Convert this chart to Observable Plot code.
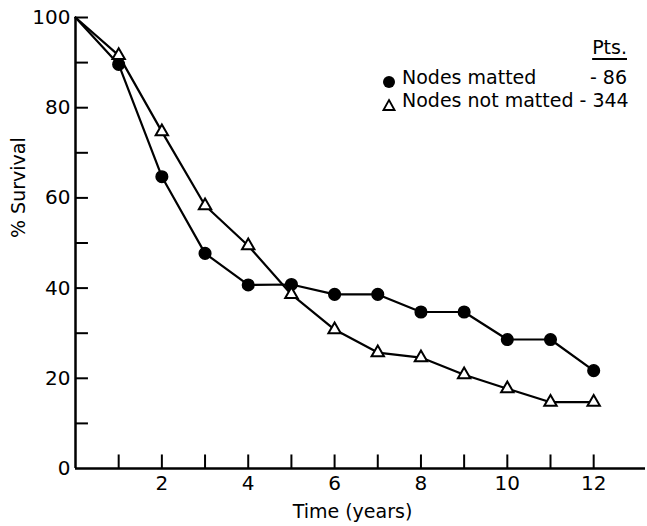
<!DOCTYPE html>
<html><head><meta charset="utf-8">
<script src="https://cdn.jsdelivr.net/npm/d3@7"></script>
<script src="https://cdn.jsdelivr.net/npm/@observablehq/plot@0.6"></script>
<style>
body{margin:0;background:#fff;}
#wrap{position:relative;width:647px;height:526px;font-family:"DejaVu Sans",sans-serif;color:#000}
.leg{position:absolute;font-size:19px;white-space:nowrap;line-height:22px}
</style></head><body><div id="wrap"></div>
<script>
const years = [0,1,2,3,4,5,6,7,8,9,10,11,12];
const matted = [100,89.6,64.7,47.7,40.7,40.8,38.6,38.6,34.7,34.7,28.6,28.6,21.7];
const notMatted = [100,91.6,74.7,58.3,49.4,38.6,30.8,25.7,24.6,20.8,17.7,14.7,14.7];
const seriesNames = ["Nodes matted", "Nodes not matted"];
const seriesPts = [86, 344];
const xTicks = [1,2,3,4,5,6,7,8,9,10,11,12];
const xLabels = [2,4,6,8,10,12];
const yTicks = [10,20,30,40,50,60,70,80,90,100];
const yLabels = [0,20,40,60,80,100];
const xTitle = "Time (years)";
const yTitle = "% Survival";

const rows = [];
years.forEach((t,i)=>{
  rows.push({t, v: matted[i], s: seriesNames[0]});
  rows.push({t, v: notMatted[i], s: seriesNames[1]});
});
const markRows = rows.filter(d => d.t > 0);

const chart = Plot.plot({
  width: 647, height: 526,
  marginLeft: 75, marginTop: 17, marginBottom: 58, marginRight: 2,
  style: {fontFamily: "DejaVu Sans", fontSize: "20px", color: "#000", background: "#fff", overflow: "visible"},
  x: {domain: [0, 13.2]},
  y: {domain: [0, 100]},
  marks: [
    Plot.axisX(xLabels, {tickSize: 0, tickPadding: 7, label: null, tickFormat: d => String(d)}),
    Plot.axisY(yLabels, {tickSize: 0, tickPadding: 5, label: null, tickFormat: d => String(d)}),
    Plot.ruleX(xTicks, {y1: 0, y2: 3, stroke: "#000", strokeWidth: 2}),
    Plot.ruleY(yTicks, {x1: 0, x2: 0.3, stroke: "#000", strokeWidth: 2}),
    Plot.ruleY([0], {stroke: "#000", strokeWidth: 2.5}),
    Plot.ruleX([0], {y1: 0, y2: 100, stroke: "#000", strokeWidth: 2.5}),
    Plot.line(rows, {x: "t", y: "v", z: "s", stroke: "#000", strokeWidth: 2.2}),
    Plot.dot(markRows.filter(d => d.s === seriesNames[0]), {x: "t", y: "v", r: 5.8, fill: "#000", stroke: "#000"}),
    Plot.dot(markRows.filter(d => d.s === seriesNames[1]), {x: "t", y: "v", r: 4.6, symbol: "triangle", fill: "#fff", stroke: "#000", strokeWidth: 2}),
    Plot.text([xTitle], {frameAnchor: "bottom", dy: 49, dx: -8, fontSize: 19, fill: "#000"}),
    Plot.text([yTitle], {frameAnchor: "left", rotate: -90, dx: -57, dy: -5, fontSize: 19, fill: "#000"})
  ]
});
const wrap = document.getElementById("wrap");
wrap.appendChild(chart);

function legItem(html, left, top, right){
  const d = document.createElement("div");
  d.className = "leg";
  if (right != null) d.style.right = right + "px"; else d.style.left = left + "px";
  d.style.top = top + "px";
  d.innerHTML = html; wrap.appendChild(d); return d;
}
legItem('<span style="text-decoration:underline;text-underline-offset:4px;text-decoration-thickness:2px">Pts.</span>', null, 36, 20);
legItem('<svg width="14" height="14" style="vertical-align:-1px"><circle cx="7" cy="7" r="6" fill="#000"/></svg>', 382, 70);
legItem('<svg width="14" height="14" style="vertical-align:-1px"><path d="M7 2 L12.5 12 L1.5 12 Z" fill="#fff" stroke="#000" stroke-width="1.8"/></svg>', 382, 93);
legItem(seriesNames[0], 402, 66);
legItem("- " + seriesPts[0], null, 66, 20);
legItem(seriesNames[1] + " - " + seriesPts[1], 402, 89);
</script></body></html>
